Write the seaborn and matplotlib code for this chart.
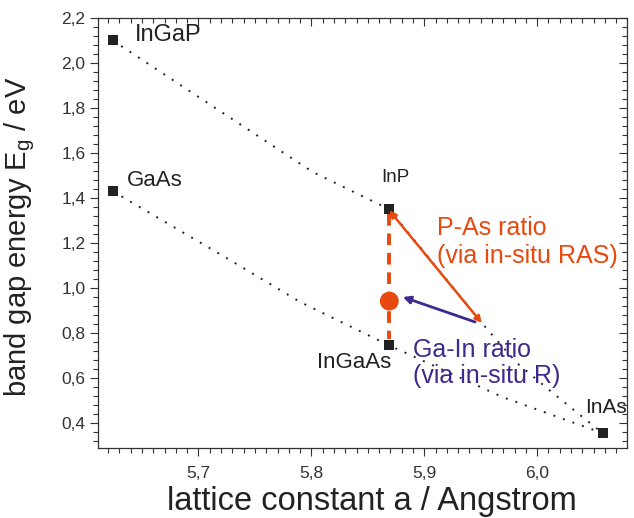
import numpy as np
import pandas as pd
import matplotlib
matplotlib.use('Agg')
import matplotlib.pyplot as plt
import seaborn as sns
from matplotlib.ticker import FuncFormatter, MultipleLocator, FixedLocator

# compound end points (lattice constant in Angstrom, band gap in eV)
materials = ['InGaP', 'GaAs', 'InP', 'InGaAs', 'InAs']
lattice = [5.624, 5.624, 5.869, 5.869, 6.058]
gap = [2.10, 1.43, 1.35, 0.745, 0.355]

# dotted alloy curves
upper_a = [5.624, 5.801, 5.869, 5.951, 5.982, 6.014, 6.058]
upper_e = [2.10, 1.516, 1.35, 0.844, 0.667, 0.533, 0.355]
lower_a = [5.624, 5.725, 5.790, 5.869, 5.969, 6.058]
lower_e = [1.43, 1.133, 0.938, 0.745, 0.516, 0.355]

# target point and guide lines
target_a = [5.869]
target_e = [0.942]
vert_a = [5.869, 5.869]
vert_e = [1.329, 0.773]
ras_path = [(5.869, 1.345), (5.951, 0.844)]
r_path = [(5.945, 0.849), (5.881, 0.960)]

yticks = [0.4, 0.6, 0.8, 1.0, 1.2, 1.4, 1.6, 1.8, 2.0, 2.2]
xticks = [5.7, 5.8, 5.9, 6.0]

orange = '#E8490F'
purple = '#3D2A8C'
dark = '#222222'


def comma(v, pos):
    return f'{v:.1f}'.replace('.', ',')


def main():
    sns.set_theme(style="ticks")
    plt.rcParams['font.family'] = ['Liberation Sans', 'DejaVu Sans']
    plt.rcParams['mathtext.default'] = 'regular'

    fig = plt.figure(figsize=(6.34, 5.18), dpi=100)
    ax = fig.add_axes([0.1546, 0.1351, 0.8344, 0.8302])

    sns.lineplot(x=upper_a, y=upper_e, sort=False, estimator=None, ax=ax,
                 color=dark, lw=1.4, linestyle=(0, (1.0, 4.2)))
    sns.lineplot(x=lower_a, y=lower_e, sort=False, estimator=None, ax=ax,
                 color=dark, lw=1.4, linestyle=(0, (1.0, 4.2)))
    sns.lineplot(x=vert_a, y=vert_e, sort=False, estimator=None, ax=ax,
                 color=orange, lw=2.8, linestyle=(0, (3, 2)))
    sns.scatterplot(x=lattice, y=gap, marker='s', s=52, color=dark,
                    edgecolor='none', ax=ax, zorder=3)
    sns.scatterplot(x=target_a, y=target_e, marker='o', s=185, color=orange,
                    edgecolor='none', ax=ax, zorder=3)

    ax.annotate('', xy=ras_path[1], xytext=ras_path[0],
                arrowprops=dict(arrowstyle='<|-|>', color=orange, lw=1.8,
                                mutation_scale=10, shrinkA=0, shrinkB=0))
    ax.annotate('', xy=r_path[1], xytext=r_path[0],
                arrowprops=dict(arrowstyle='-|>', color=purple, lw=2.0,
                                mutation_scale=11, shrinkA=0, shrinkB=0))

    # point labels
    ax.text(5.644, 2.124, 'InGaP', fontsize=17, color=dark, va='center', ha='left')
    ax.text(5.637, 1.48, 'GaAs', fontsize=16, color=dark, va='center', ha='left')
    ax.text(5.874, 1.491, 'InP', fontsize=13.5, color=dark, va='center', ha='center')
    ax.text(5.838, 0.667, 'InGaAs', fontsize=16, color=dark, va='center', ha='center')
    ax.text(6.061, 0.471, 'InAs', fontsize=15, color=dark, va='center', ha='center')

    ax.text(5.911, 1.236, 'P-As ratio', fontsize=18, color=orange, va='baseline')
    ax.text(5.911, 1.111, '(via in-situ RAS)', fontsize=18, color=orange, va='baseline')
    ax.text(5.890, 0.693, 'Ga-In ratio', fontsize=18, color=purple, va='baseline')
    ax.text(5.890, 0.578, '(via in-situ R)', fontsize=18, color=purple, va='baseline')

    ax.set_xlim(5.611, 6.0796)
    ax.set_ylim(0.289, 2.2)
    ax.xaxis.set_major_locator(FixedLocator(xticks))
    ax.xaxis.set_minor_locator(MultipleLocator(0.01))
    ax.yaxis.set_major_locator(FixedLocator(yticks))
    ax.yaxis.set_minor_locator(MultipleLocator(0.04))
    ax.xaxis.set_major_formatter(FuncFormatter(comma))
    ax.yaxis.set_major_formatter(FuncFormatter(comma))

    for s in ax.spines.values():
        s.set_color('#333333')
        s.set_linewidth(0.9)
    ax.tick_params(which='both', top=True, right=True, color='#333333', width=0.8)
    ax.tick_params(axis='both', which='major', length=6, labelsize=12.5,
                   labelcolor='#333333', pad=3)
    ax.tick_params(axis='both', which='minor', length=3.5)
    ax.tick_params(axis='x', which='major', pad=7)
    ax.tick_params(axis='x', which='both', top=True, direction='out')
    ax.tick_params(axis='y', which='both', right=True, direction='out')
    # top and right ticks point inwards
    for t in ax.xaxis.get_major_ticks() + ax.xaxis.get_minor_ticks():
        t.tick2line.set_marker(matplotlib.lines.TICKDOWN)
    for t in ax.yaxis.get_major_ticks() + ax.yaxis.get_minor_ticks():
        t.tick2line.set_marker(matplotlib.lines.TICKLEFT)

    ax.set_xlabel('lattice constant a / Angstrom', fontsize=23.5, color=dark)
    ax.set_ylabel('band gap energy E$_g$ / eV', fontsize=21, color=dark)
    ax.xaxis.set_label_coords(0.518, -0.088)
    ax.yaxis.set_label_coords(-0.115, 0.49)

    fig.savefig('out.png', dpi=100)


if __name__ == "__main__":
    main()
